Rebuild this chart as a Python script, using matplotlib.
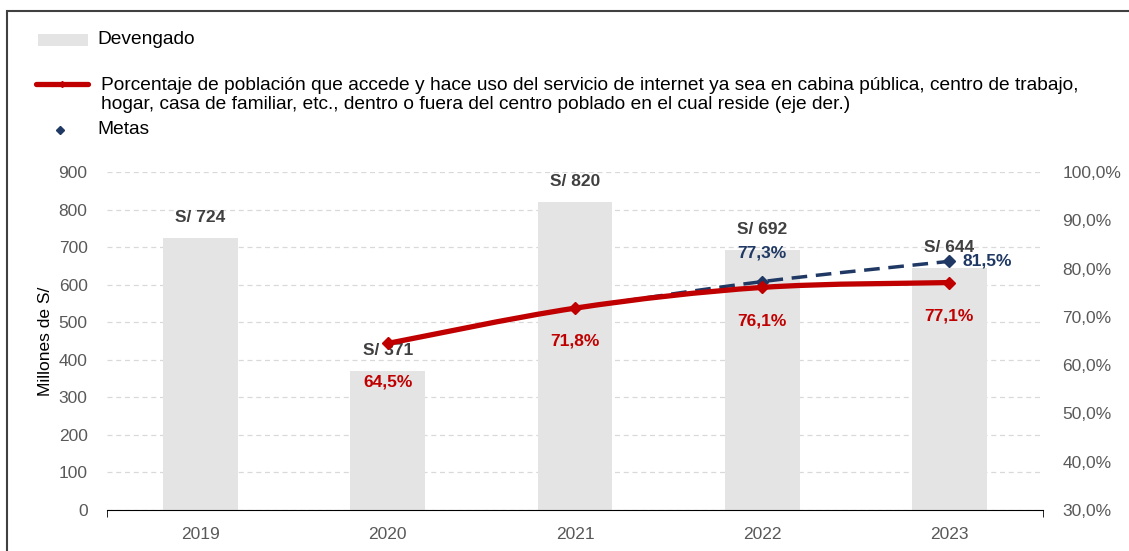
import numpy as np
import matplotlib
matplotlib.use("Agg")
import matplotlib.pyplot as plt
from matplotlib.path import Path
from matplotlib.patches import PathPatch, Rectangle
from matplotlib.lines import Line2D

plt.rcParams['font.family'] = ['Liberation Sans', 'DejaVu Sans']

years = ['2019', '2020', '2021', '2022', '2023']
devengado = [724, 371, 820, 692, 644]
porcentaje = [np.nan, 64.5, 71.8, 76.1, 77.1]
metas = [np.nan, np.nan, 71.8, 77.3, 81.5]

red = '#C00000'
navy = '#1F3864'
gray_txt = '#595959'
W, H = 1129, 551


def fx(px):
    return px / W


def fy(py):
    return 1 - py / H


def smooth_path(xs, ys):
    # Catmull-Rom style smoothing, like Excel's smoothed line
    pts = [(x, y) for x, y in zip(xs, ys) if not np.isnan(y)]
    verts = [pts[0]]
    codes = [Path.MOVETO]
    for i in range(len(pts) - 1):
        p0 = pts[i - 1] if i > 0 else pts[i]
        p1 = pts[i]
        p2 = pts[i + 1]
        p3 = pts[i + 2] if i + 2 < len(pts) else pts[i + 1]
        c1 = (p1[0] + (p2[0] - p0[0]) / 6, p1[1] + (p2[1] - p0[1]) / 6)
        c2 = (p2[0] - (p3[0] - p1[0]) / 6, p2[1] - (p3[1] - p1[1]) / 6)
        verts += [c1, c2, p2]
        codes += [Path.CURVE4] * 3
    return Path(verts, codes)


def pct(v):
    return f'{v:.1f}'.replace('.', ',') + '%'


fig = plt.figure(figsize=(11.29, 5.51), dpi=100)
ax = fig.add_axes([fx(107), fy(510), fx(1043) - fx(107), fy(172) - fy(510)])
ax2 = ax.twinx()

x = np.arange(len(years))
ax.bar(x, devengado, width=0.4, color='#E4E4E4', zorder=2)
for xi, v in zip(x, devengado):
    ax.text(xi, v + 55, f'S/ {v}', ha='center', va='center', fontsize=12.5,
            fontweight='bold', color='#404040', zorder=5)

ax.set_ylim(0, 900)
ax.set_xlim(-0.5, 4.5)
ax.set_yticks(range(0, 901, 100))
ax.set_xticks(x)
ax.set_xticklabels(years)
ax.yaxis.grid(True, color='#D9D9D9', linestyle=(0, (4, 3)), linewidth=0.9)
ax.set_axisbelow(True)
ax.tick_params(axis='y', length=0, labelsize=12.5, labelcolor=gray_txt, pad=14)
ax.tick_params(axis='x', length=0, labelsize=12.5, labelcolor=gray_txt, pad=12)
ax.set_xticks([-0.5, 4.5], minor=True)
ax.tick_params(axis='x', which='minor', length=5, color='black', direction='out')
ax.set_ylabel('Millones de S/', fontsize=12.5, labelpad=4)
for s in ['top', 'left', 'right']:
    ax.spines[s].set_visible(False)
ax.spines['bottom'].set_color('black')

ax2.set_ylim(30, 100)
ax2.set_yticks(range(30, 101, 10))
ax2.set_yticklabels([f'{v},0%' for v in range(30, 101, 10)])
ax2.tick_params(axis='y', length=0, labelsize=12.5, labelcolor=gray_txt, pad=14)
for s in ['top', 'left', 'right', 'bottom']:
    ax2.spines[s].set_visible(False)

# metas (dashed), drawn under the red line
ax2.add_patch(PathPatch(smooth_path(x, metas), fill=False, edgecolor=navy,
                        lw=2.5, linestyle=(0, (4.5, 2.5)), zorder=3))
mx = [xi for xi, v in zip(x, metas) if not np.isnan(v)][1:]
my = [v for v in metas if not np.isnan(v)][1:]
ax2.plot(mx, my, linestyle='none', marker='D', ms=6.5, color=navy, zorder=3)

ax2.add_patch(PathPatch(smooth_path(x, porcentaje), fill=False, edgecolor=red,
                        lw=3.8, capstyle='round', zorder=4))
px = [xi for xi, v in zip(x, porcentaje) if not np.isnan(v)]
py = [v for v in porcentaje if not np.isnan(v)]
ax2.plot(px, py, linestyle='none', marker='D', ms=6.5, color=red, zorder=4)

offsets = [7.9, 6.9, 6.9, 6.9]
for xi, v, off in zip(px, py, offsets):
    ax2.text(xi, v - off, pct(v), ha='center', va='center', fontsize=12.5,
             fontweight='bold', color=red, zorder=6)

ax2.text(mx[0], my[0] + 6.0, pct(my[0]), ha='center', va='center',
         fontsize=12.5, fontweight='bold', color=navy, zorder=6)
ax2.text(mx[1] + 0.07, my[1], pct(my[1]), ha='left', va='center',
         fontsize=12.5, fontweight='bold', color=navy, zorder=6)

# legend, laid out by hand like the source
fig.add_artist(Rectangle((fx(38), fy(46)), fx(88) - fx(38), fy(34) - fy(46),
                         transform=fig.transFigure, color='#E4E4E4', lw=0))
fig.text(fx(97), fy(40), 'Devengado', fontsize=13.8, va='center', ha='left')

fig.add_artist(Line2D([fx(36), fx(88)], [fy(84), fy(84)], transform=fig.transFigure,
                      color=red, lw=3.8, solid_capstyle='round'))
fig.add_artist(Line2D([fx(62)], [fy(84)], transform=fig.transFigure,
                      color=red, marker='D', ms=3))
fig.text(fx(101), fy(95),
         'Porcentaje de población que accede y hace uso del servicio de internet ya sea en cabina pública, centro de trabajo,\n'
         'hogar, casa de familiar, etc., dentro o fuera del centro poblado en el cual reside (eje der.)',
         fontsize=13.8, va='center', ha='left', linespacing=1.1)

fig.add_artist(Line2D([fx(60)], [fy(130)], transform=fig.transFigure,
                      color=navy, marker='D', ms=4.5, linestyle='none'))
fig.text(fx(97), fy(130), 'Metas', fontsize=13.8, va='center', ha='left')

fig.add_artist(Rectangle((fx(7), -0.1), 1.2, fy(11) + 0.1,
                         transform=fig.transFigure, fill=False,
                         edgecolor='#404040', lw=1.5))

fig.savefig('out.png', dpi=100)
